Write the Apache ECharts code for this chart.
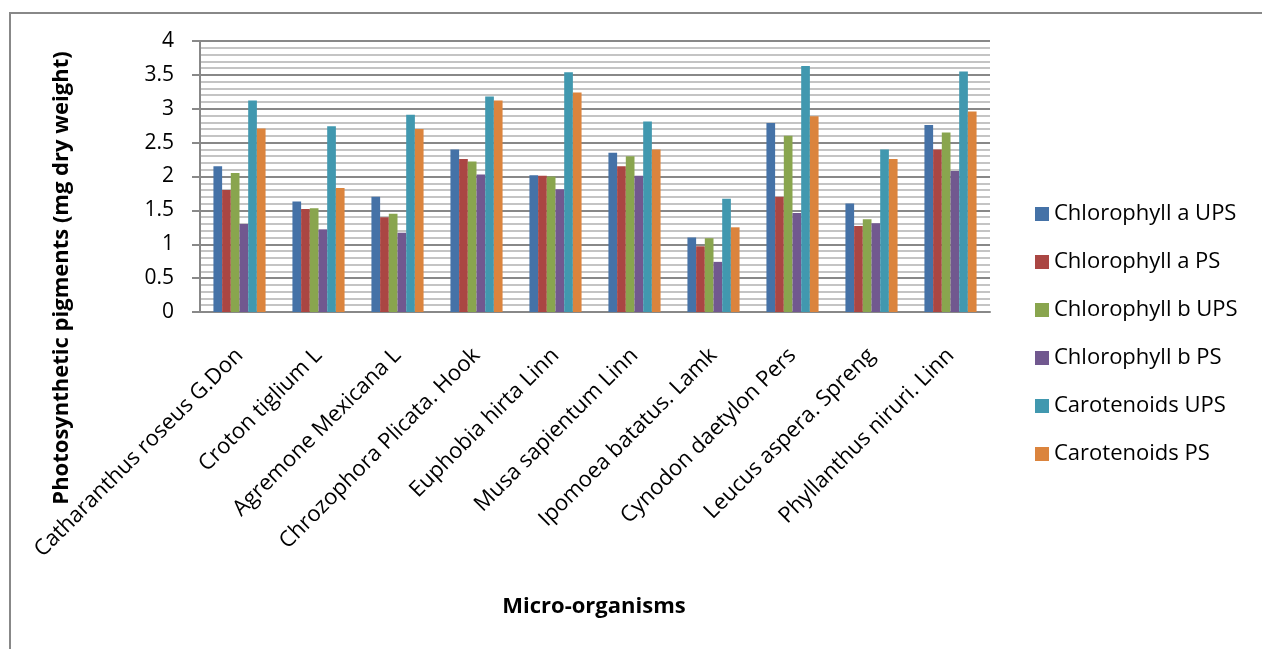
<!DOCTYPE html>
<html>
<head>
<meta charset="utf-8">
<script src="https://cdn.jsdelivr.net/npm/echarts@6/dist/echarts.min.js"></script>
<style>
  html, body { margin: 0; padding: 0; background: #fff; }
  #main { width: 1262px; height: 649px; }
</style>
</head>
<body>
<div id="main"></div>
<script>
let categories = ['Catharanthus roseus G.Don', 'Croton tiglium L', 'Agremone Mexicana L',
    'Chrozophora Plicata. Hook', 'Euphobia hirta Linn', 'Musa sapientum Linn',
    'Ipomoea batatus. Lamk', 'Cynodon daetylon Pers', 'Leucus aspera. Spreng', 'Phyllanthus niruri. Linn'];

let chlA_UPS = [2.15, 1.63, 1.70, 2.40, 2.02, 2.35, 1.10, 2.79, 1.60, 2.76];
let chlA_PS  = [1.80, 1.52, 1.40, 2.26, 2.01, 2.15, 0.97, 1.70, 1.27, 2.40];
let chlB_UPS = [2.05, 1.53, 1.45, 2.22, 2.00, 2.30, 1.09, 2.60, 1.37, 2.65];
let chlB_PS  = [1.30, 1.22, 1.17, 2.03, 1.81, 2.01, 0.74, 1.46, 1.31, 2.08];
let car_UPS  = [3.12, 2.74, 2.91, 3.18, 3.54, 2.81, 1.67, 3.63, 2.40, 3.55];
let car_PS   = [2.71, 1.83, 2.70, 3.12, 3.24, 2.40, 1.25, 2.89, 2.26, 2.96];

let seriesNames = ['Chlorophyll a UPS', 'Chlorophyll a PS', 'Chlorophyll b UPS',
    'Chlorophyll b PS', 'Carotenoids UPS', 'Carotenoids PS'];
let seriesData = [chlA_UPS, chlA_PS, chlB_UPS, chlB_PS, car_UPS, car_PS];

let chart = echarts.init(document.getElementById('main'));
let font = 'Open Sans';

let option = {
    animation: false,
    color: ['#4572A7', '#AA4643', '#89A54E', '#71588F', '#4198AF', '#DB843D'],
    textStyle: { fontFamily: font },
    grid: {
        left: 200,
        right: 272,
        top: 41,
        bottom: 337,
        containLabel: false
    },
    legend: {
        orient: 'vertical',
        left: 1030,
        top: 198,
        itemWidth: 14,
        itemHeight: 14,
        itemGap: 26,
        icon: 'rect',
        textStyle: { fontSize: 22, color: '#000', fontFamily: font, lineHeight: 21 },
        data: seriesNames
    },
    xAxis: {
        type: 'category',
        data: categories,
        axisLine: { lineStyle: { color: '#888', width: 2 } },
        axisTick: { show: false },
        axisLabel: {
            interval: 0,
            rotate: 45,
            margin: 40,
            fontSize: 22,
            color: '#000',
            fontFamily: font
        }
    },
    yAxis: {
        type: 'value',
        min: 0,
        max: 4,
        interval: 0.5,
        axisLine: { show: true, lineStyle: { color: '#888', width: 2 } },
        axisTick: { show: true, length: 8, lineStyle: { color: '#888', width: 2 } },
        axisLabel: { fontSize: 21, color: '#000', margin: 26, fontFamily: font },
        splitLine: { lineStyle: { color: '#888', width: 2 } },
        minorSplitLine: { show: true, lineStyle: { color: '#c4c4c4', width: 2 } },
        minorTick: { show: false, splitNumber: 5 }
    },
    graphic: [
        {
            type: 'rect',
            shape: { x: 10, y: 13, width: 1300, height: 700 },
            style: { fill: null, stroke: '#888', lineWidth: 2 },
            silent: true
        },
        {
            type: 'text',
            x: 62,
            y: 278,
            rotation: Math.PI / 2,
            style: {
                text: 'Photosynthetic pigments (mg dry weight)',
                font: 'bold 22px "Open Sans"',
                fill: '#000',
                align: 'center',
                verticalAlign: 'middle'
            }
        },
        {
            type: 'text',
            x: 594,
            y: 607,
            style: {
                text: 'Micro-organisms',
                font: 'bold 22px "Open Sans"',
                fill: '#000',
                align: 'center',
                verticalAlign: 'middle'
            }
        }
    ],
    series: seriesData.map(function (d, i) {
        return {
            name: seriesNames[i],
            type: 'bar',
            data: d,
            barGap: '0%',
            barCategoryGap: '34%'
        };
    })
};
chart.setOption(option);
</script>
</body>
</html>
